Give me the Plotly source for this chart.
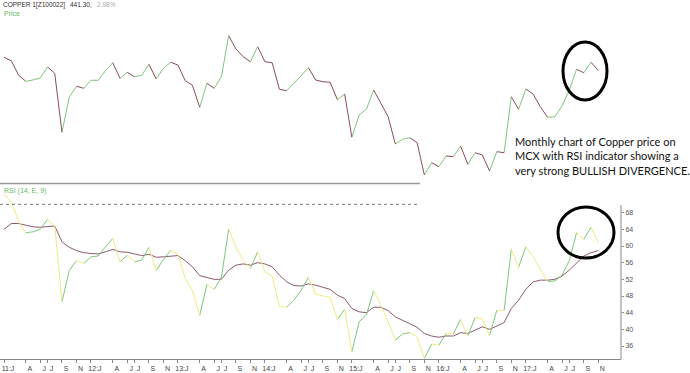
import plotly.graph_objects as go

W, H = 690, 373

# ---------------- data (monthly, Jan 2011 .. Nov 2017) ----------------
months = [f"{y}-{m:02d}" for y in range(2011, 2018) for m in range(1, 13)][:83]

price = [459.8, 455.0, 435.0, 426.2, 428.0, 430.8, 446.2, 437.4, 354.8, 403.8,
         419.2, 416.4, 427.6, 427.6, 441.0, 452.2, 430.4, 438.8, 432.6, 434.6,
         450.0, 429.4, 444.4, 452.8, 449.0, 427.0, 420.6, 389.8, 423.4, 416.4,
         432.6, 490.0, 471.4, 460.6, 453.6, 474.6, 453.6, 452.2, 415.0, 413.0,
         423.4, 434.0, 445.2, 428.0, 425.6, 424.9, 400.4, 408.4, 347.8, 379.0,
         387.0, 414.0, 395.4, 376.6, 338.4, 345.0, 347.2, 340.2, 295.0, 312.2,
         306.6, 321.6, 320.6, 335.6, 310.0, 326.2, 323.0, 300.6, 327.6, 326.2,
         404.6, 387.0, 415.4, 408.4, 390.6, 375.8, 376.6, 391.6, 414.0, 443.0,
         438.2, 452.8, 441.3]

rsi = [72.5, 70.5, 66.0, 63.2, 63.4, 64.0, 66.4, 64.8, 46.6, 54.1,
       56.5, 55.8, 57.4, 57.6, 59.8, 61.8, 56.2, 57.8, 56.2, 56.6,
       59.7, 54.1, 56.8, 58.9, 58.1, 52.2, 49.4, 43.3, 50.8, 49.6,
       52.5, 64.1, 59.7, 56.6, 54.6, 58.6, 53.8, 52.8, 45.4, 45.3,
       47.0, 49.4, 52.5, 48.5, 48.0, 47.7, 42.4, 44.8, 34.6, 41.8,
       43.4, 49.3, 45.8, 41.8, 37.4, 38.9, 39.2, 38.2, 33.0, 36.5,
       36.2, 39.0, 38.9, 42.4, 38.4, 42.8, 42.5, 38.5, 44.6, 44.5,
       59.2, 54.9, 59.8, 57.4, 54.4, 51.5, 51.6, 53.0, 56.5, 63.2,
       61.6, 64.5, 60.8]

rsi_signal = [64.0, 65.4, 65.4, 65.0, 64.6, 64.5, 64.6, 64.8, 61.0, 59.7,
              58.9, 58.4, 58.2, 58.1, 58.6, 59.2, 58.6, 58.5, 58.1, 57.7,
              58.0, 57.3, 57.4, 57.6, 57.7, 56.5, 55.0, 52.9, 52.5, 52.0,
              52.0, 54.2, 55.4, 55.7, 55.4, 56.0, 55.7, 55.0, 53.0, 51.4,
              50.5, 50.4, 50.9, 50.6, 50.1, 49.6, 48.2, 47.4, 45.0, 44.2,
              44.0, 45.3, 45.3, 44.5, 43.0, 42.1, 41.3, 40.5, 39.0, 38.4,
              38.1, 38.4, 38.4, 39.2, 39.0, 39.8, 40.6, 40.0, 40.8, 41.6,
              45.0, 47.0, 49.6, 51.4, 51.8, 51.8, 52.0, 52.8, 54.2, 56.0,
              57.6, 58.4, 58.9]

years = ["11", "12", "13", "14", "15", "16", "17"]
month_letters = ["J", "A", "J", "J", "S", "N"]
month_offsets = [0, 3, 5, 6, 8, 10]
rsi_ticks = [36, 40, 44, 48, 52, 56, 60, 64, 68]

tick_vals = [12 * i + o for i in range(len(years)) for o in month_offsets]
tick_text = [(f"{years[i]}:J" if k == 0 else month_letters[k])
             for i in range(len(years)) for k in range(len(month_offsets))]

# ---------------- styling ----------------
GREEN = "#7cc87c"
MAROON = "#8c4a5c"
YELLOW = "#f0ec7c"
PURPLE = "#8c5a72"


def split(vals):
    up_x, up_y, dn_x, dn_y = [], [], [], []
    for i in range(len(vals) - 1):
        if vals[i + 1] >= vals[i]:
            up_x += [i, i + 1, None]
            up_y += [vals[i], vals[i + 1], None]
        else:
            dn_x += [i, i + 1, None]
            dn_y += [vals[i], vals[i + 1], None]
    return up_x, up_y, dn_x, dn_y


def px_x(x):
    return x / W


def px_y(y):
    return 1 - y / H


fig = go.Figure()

# price
ux, uy, dx, dy = split(price)
fig.add_trace(go.Scatter(x=ux, y=uy, mode="lines", yaxis="y2",
                         line=dict(color=GREEN, width=1), hoverinfo="skip"))
fig.add_trace(go.Scatter(x=dx, y=dy, mode="lines", yaxis="y2",
                         line=dict(color=MAROON, width=1), hoverinfo="skip"))

# rsi signal
fig.add_trace(go.Scatter(x=list(range(len(rsi_signal))), y=rsi_signal, mode="lines",
                         yaxis="y", line=dict(color=PURPLE, width=1)))
# rsi
ux, uy, dx, dy = split(rsi)
fig.add_trace(go.Scatter(x=ux, y=uy, mode="lines", yaxis="y",
                         line=dict(color=GREEN, width=1), hoverinfo="skip"))
fig.add_trace(go.Scatter(x=dx, y=dy, mode="lines", yaxis="y",
                         line=dict(color=YELLOW, width=1), hoverinfo="skip"))

x_left_px, x_right_px = 4.0, 598.3
step = (x_right_px - x_left_px) / (len(price) - 1)
x_range = [-x_left_px / step, (621 - x_left_px) / step]

# RSI axis: value 36 at y=346 px, 4.1667 px per unit
def rsi_at(ypx):
    return 36 + (346 - ypx) / 4.1667

# price axis: price = 540 - 1.4 * y_px
def price_at(ypx):
    return 540 - 1.4 * ypx

fig.update_layout(
    width=W, height=H,
    margin=dict(l=0, r=0, t=0, b=0),
    paper_bgcolor="white", plot_bgcolor="white",
    showlegend=False,
    xaxis=dict(domain=[0, 621 / W], range=x_range, anchor="y",
               tickvals=tick_vals, ticktext=tick_text, ticks="outside",
               ticklen=3, tickcolor="#888", showline=True, linecolor="#888",
               linewidth=1, showgrid=False, zeroline=False,
               tickfont=dict(family="Liberation Sans, Arial", size=7, color="#444"),
               ticklabelshift=4, ticklabeloverflow="allow"),
    yaxis=dict(domain=[px_y(359), px_y(185)], range=[rsi_at(359), rsi_at(185)],
               side="right", anchor="x", tickvals=rsi_ticks, ticks="outside",
               ticklen=2, tickcolor="#888", showline=False, showgrid=False,
               zeroline=False,
               tickfont=dict(family="Liberation Sans, Arial", size=7, color="#555")),
    yaxis2=dict(domain=[px_y(182), px_y(20)], range=[price_at(182), price_at(20)],
                anchor="x", visible=False, showgrid=False, zeroline=False),
)

shapes = [
    # panel separator
    dict(type="line", xref="paper", yref="paper", x0=0, x1=px_x(420),
         y0=px_y(183.5), y1=px_y(183.5), line=dict(color="#999", width=1.5)),
    # RSI 70 level dotted
    dict(type="line", xref="paper", yref="y", x0=0, x1=px_x(420), y0=70, y1=70,
         line=dict(color="#777", width=1, dash="dot")),
    # RSI right axis line
    dict(type="line", xref="paper", yref="paper", x0=px_x(621), x1=px_x(621),
         y0=px_y(205), y1=px_y(359), line=dict(color="#888", width=1)),
    # highlight ellipses
    dict(type="circle", xref="paper", yref="paper", x0=px_x(563), x1=px_x(607),
         y0=px_y(100), y1=px_y(42), line=dict(color="black", width=3)),
    dict(type="circle", xref="paper", yref="paper", x0=px_x(558), x1=px_x(614),
         y0=px_y(258), y1=px_y(207), line=dict(color="black", width=3)),
]
fig.update_layout(shapes=shapes)

small = dict(family="Liberation Sans, Arial")
ann = [
    dict(text="COPPER 1[Z100022]", x=px_x(1), y=px_y(4.5),
         font=dict(**small, size=6.5, color="#333")),
    dict(text="441.30,", x=px_x(68), y=px_y(4.5),
         font=dict(**small, size=6.5, color="#333")),
    dict(text="2.98%", x=px_x(95), y=px_y(4.5),
         font=dict(**small, size=6.5, color="#aaa")),
    dict(text="Price", x=px_x(2), y=px_y(13),
         font=dict(**small, size=7, color="#66bb66")),
    dict(text="RSI (14, E, 9)", x=px_x(2), y=px_y(190.5),
         font=dict(**small, size=7, color="#66bb66")),
    dict(text="Monthly chart of Copper price on<br>MCX with RSI indicator showing a<br>"
              "very strong BULLISH DIVERGENCE.",
         x=px_x(513), y=px_y(156), align="left",
         font=dict(family="Lato, Open Sans", size=11, color="#111")),
]
for a in ann:
    fig.add_annotation(xref="paper", yref="paper", xanchor="left", yanchor="middle",
                       showarrow=False, **a)

fig.write_html("out.html")
